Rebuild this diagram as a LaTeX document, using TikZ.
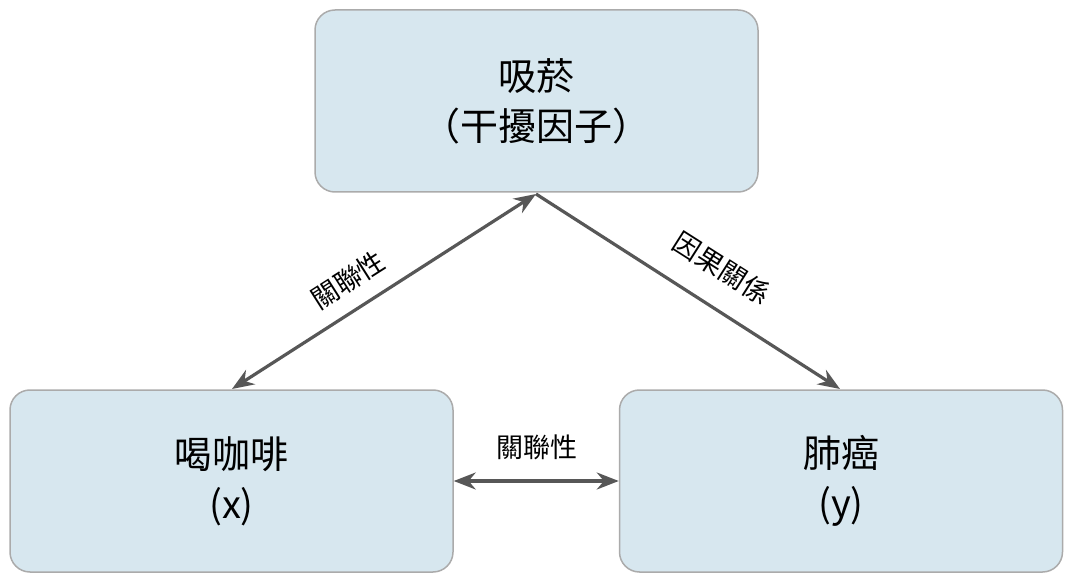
\documentclass[tikz,border=0pt]{standalone}
\usepackage{fontspec}
\setmainfont{Noto Sans CJK TC}
\usetikzlibrary{arrows.meta}
\definecolor{boxfill}{HTML}{D7E7EF}
\definecolor{boxline}{HTML}{ABABAB}
\definecolor{arr}{HTML}{575757}
\begin{document}
\begin{tikzpicture}[x=1pt,y=-1pt,
  box/.style={draw=boxline,line width=1.5pt,fill=boxfill,rounded corners=20pt,minimum width=443pt,minimum height=182pt,inner sep=0pt,align=center,font=\fontsize{38}{50}\selectfont},
  con/.style={draw=arr,line width=3.2pt,-{Stealth[length=22pt,width=17pt]}},
  lab/.style={font=\fontsize{27}{32}\selectfont,inner sep=0pt}]
\useasboundingbox (0,0) rectangle (1066,580);
\node[box] (top) at (536.5,101) {吸菸\\（干擾因子）};
\node[box] (x) at (231.5,481) {喝咖啡\\(x)};
\node[box] (y) at (841,481) {肺癌\\(y)};
\coordinate (apex) at (536,194);
\coordinate (xl) at (232,389);
\coordinate (yr) at (840,389);
\draw[con,{Stealth[length=22pt,width=17pt]}-{Stealth[length=22pt,width=17pt]}] (xl) -- (apex);
\draw[con] (apex) -- (yr);
\draw[con,{Stealth[length=22pt,width=17pt]}-{Stealth[length=22pt,width=17pt]}] (x.east) -- (y.west);
\node[lab,rotate=32.5] (l1) at (348,280) {關聯性};
\node[lab,rotate=-32.5] (l2) at (722,268) {因果關係};
\node[lab] (l3) at (537,447) {關聯性};
\end{tikzpicture}
\end{document}
